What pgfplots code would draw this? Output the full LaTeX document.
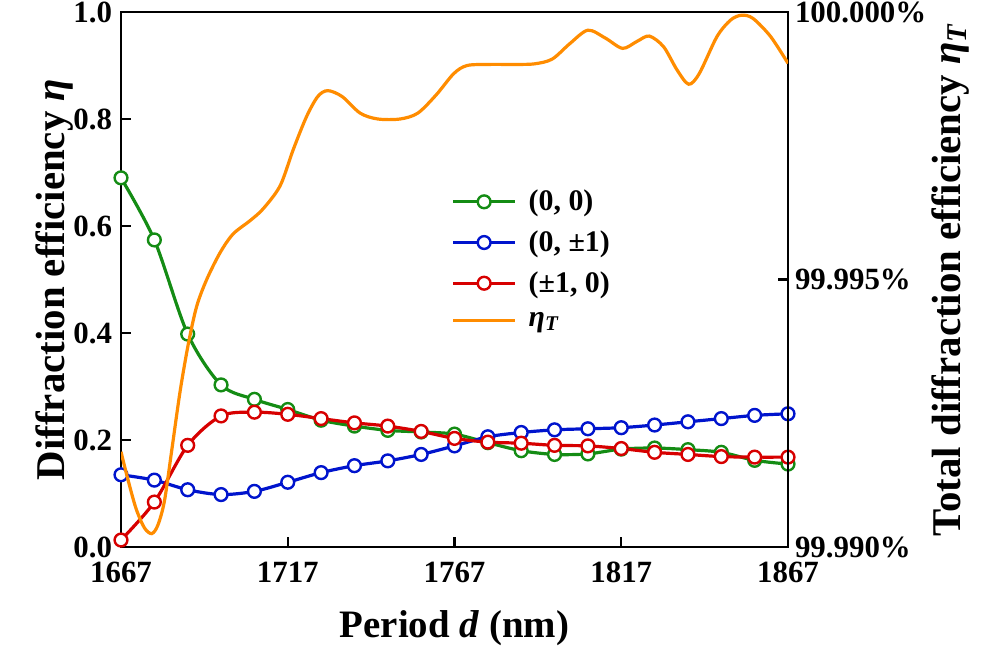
\documentclass[border=0pt]{standalone}
\usepackage{fontspec}
\setmainfont{Liberation Serif}
\usepackage{pgfplots}
\pgfplotsset{compat=1.18}
\definecolor{cgreen}{RGB}{20,140,20}
\definecolor{cblue}{RGB}{0,20,205}
\definecolor{cred}{RGB}{215,0,0}
\definecolor{corange}{RGB}{255,140,0}
\pgfplotsset{
  myaxis/.style={
    at={(0,0)}, anchor=south west, scale only axis,
    width=333.5bp, height=267.5bp,
    xmin=1667, xmax=1867, ymin=0, ymax=1,
    tick align=inside, major tick length=5bp,
    axis line style={line width=1.1bp}, tick style={line width=1.1bp, black},
    ticklabel style={font=\fontsize{15.5}{17}\selectfont\bfseries},
    /pgf/number format/assume math mode=true,
    label style={font=\fontsize{19.5}{22}\selectfont\bfseries},
    ylabel style={font=\fontsize{20.5}{23}\selectfont\bfseries},
  },
  ser/.style={#1, line width=1.6bp, smooth, mark=*, mark size=3.2bp,
    mark options={fill=white, draw=#1, line width=1.2bp, solid}},
}
\begin{document}
\begin{tikzpicture}
\begin{axis}[myaxis,
  axis x line*=box, tick pos=left,
  xtick={1667,1717,1767,1817,1867},
  xticklabels={1667,1717,1767,1817,1867},
  xticklabel style={yshift=-4bp},
  ytick={0,0.2,0.4,0.6,0.8,1.0},
  yticklabels={0.0,0.2,0.4,0.6,0.8,1.0},
  yticklabel style={xshift=-1bp},
  xlabel={Period \textit{d} (nm)},
  ylabel={Diffraction efficiency \textit{η}},
  xlabel style={at={(axis description cs:0.5,0)}, anchor=center, yshift=-40.5bp},
  ylabel style={at={(axis description cs:-0.099,0.5)}, anchor=center},
]
\addplot[ser=cgreen] coordinates {
(1667,0.690)(1677,0.574)(1687,0.398)(1697,0.303)(1707,0.276)(1717,0.257)
(1727,0.237)(1737,0.226)(1747,0.218)(1757,0.215)(1767,0.211)(1777,0.195)
(1787,0.180)(1797,0.173)(1807,0.174)(1817,0.183)(1827,0.185)(1837,0.182)
(1847,0.177)(1857,0.162)(1867,0.155)};
\addplot[ser=cblue] coordinates {
(1667,0.135)(1677,0.125)(1687,0.107)(1697,0.098)(1707,0.104)(1717,0.121)
(1727,0.139)(1737,0.152)(1747,0.161)(1757,0.173)(1767,0.189)(1777,0.206)
(1787,0.214)(1797,0.219)(1807,0.221)(1817,0.223)(1827,0.228)(1837,0.234)
(1847,0.240)(1857,0.246)(1867,0.249)};
\addplot[ser=cred] coordinates {
(1667,0.013)(1677,0.084)(1687,0.190)(1697,0.245)(1707,0.252)(1717,0.248)
(1727,0.240)(1737,0.232)(1747,0.226)(1757,0.216)(1767,0.203)(1777,0.196)
(1787,0.194)(1797,0.190)(1807,0.189)(1817,0.184)(1827,0.177)(1837,0.173)
(1847,0.169)(1857,0.168)(1867,0.168)};
\end{axis}
\begin{axis}[myaxis,
  axis x line=none, axis y line*=right,
  ytick={0,0.5,1},
  yticklabels={99.990\%,99.995\%,100.000\%},
  ylabel={Total diffraction efficiency \textit{η}\textsubscript{\textit{T}}},
  ylabel style={at={(axis description cs:1.243,0.5)}, anchor=center},
  legend style={at={(rel axis cs:0.486,0.683)}, anchor=north west, draw=none, fill=none,
    font=\fontsize{15}{16.5}\selectfont\bfseries, row sep=4.5bp,
    /tikz/every odd column/.append style={column sep=4bp}},
  legend cell align=left,
  legend image code/.code={\draw[mark repeat=2,mark phase=2,#1] plot coordinates {(0bp,0bp)(15.5bp,0bp)(31bp,0bp)};},
]
\addlegendimage{ser=cgreen}
\addlegendentry{(0, 0)}
\addlegendimage{ser=cblue}
\addlegendentry{(0, ±1)}
\addlegendimage{ser=cred}
\addlegendentry{(±1, 0)}
\addplot[corange, line width=1.6bp, smooth] coordinates {
(1667,0.178)(1669,0.128)(1671.5,0.072)(1674,0.036)(1676.2,0.025)(1678,0.040)
(1680,0.085)(1682.2,0.180)(1684.7,0.290)(1687.2,0.380)(1689.7,0.450)(1692.7,0.500)
(1696.7,0.550)(1700.6,0.585)(1705.7,0.610)(1709.6,0.632)(1714.7,0.675)(1718.6,0.742)
(1722.6,0.804)(1726,0.842)(1729,0.853)(1733.3,0.842)(1738.7,0.811)(1744,0.800)
(1750.7,0.800)(1756,0.811)(1761.5,0.845)(1766.8,0.885)(1770.8,0.900)(1777.5,0.902)
(1784,0.902)(1790.9,0.903)(1796.3,0.912)(1801.6,0.941)(1807,0.966)(1812.3,0.951)
(1817.4,0.932)(1821.7,0.945)(1825.4,0.955)(1829.7,0.935)(1833.7,0.892)(1837.2,0.865)
(1840.4,0.885)(1845.7,0.954)(1849.8,0.985)(1853.1,0.994)(1856.5,0.988)(1861.8,0.954)
(1867,0.904)};
\addlegendentry{\textit{η}\textsubscript{\textit{T}}}
\end{axis}
\pgfresetboundingbox
\path[use as bounding box] (-60.5bp,-52bp) rectangle (436bp,273.5bp);
\end{tikzpicture}
\end{document}
